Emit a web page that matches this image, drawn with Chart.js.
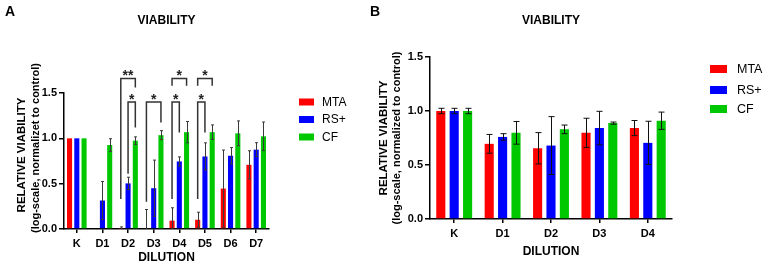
<!DOCTYPE html>
<html><head><meta charset="utf-8">
<script src="https://cdn.jsdelivr.net/npm/chart.js@4/dist/chart.umd.min.js"></script>
<style>
html,body{margin:0;padding:0;background:#fff;width:767px;height:267px;overflow:hidden}
#wa{position:absolute;left:0;top:0;width:370px;height:267px}
#wb{position:absolute;left:370px;top:0;width:397px;height:267px}
canvas{display:block}
</style></head><body>
<div id="wa"><canvas id="ca" width="370" height="267"></canvas></div>
<div id="wb"><canvas id="cb" width="397" height="267"></canvas></div>
<script>
// ---------- DATA ----------
const seriesNames = ['MTA', 'RS+', 'CF'];
const yTicks = [0, 0.5, 1.0, 1.5];

// Panel A
const categoriesA = ['K', 'D1', 'D2', 'D3', 'D4', 'D5', 'D6', 'D7'];
const mtaA    = [1.00, 0.00, 0.005, 0.00, 0.092, 0.102, 0.446, 0.708];
const mtaErrA = [0.00, 0.00, 0.018, 0.215, 0.142, 0.083, 0.425, 0.155];
const rsA     = [1.00, 0.314, 0.503, 0.450, 0.745, 0.800, 0.808, 0.875];
const rsErrA  = [0.00, 0.210, 0.068, 0.310, 0.050, 0.150, 0.090, 0.077];
const cfA     = [1.00, 0.926, 0.974, 1.035, 1.068, 1.068, 1.055, 1.022];
const cfErrA  = [0.00, 0.070, 0.042, 0.050, 0.118, 0.080, 0.137, 0.158];
// significance brackets (category, series from/to, bracket level, leg ends)
const bracketCats   = ['D2', 'D2', 'D3', 'D4', 'D4', 'D5', 'D5'];
const bracketFrom   = [0, 1, 0, 0, 0, 0, 0];
const bracketTo     = [2, 2, 2, 2, 1, 2, 1];
const bracketLevel  = [1.66, 1.40, 1.40, 1.66, 1.40, 1.66, 1.40];
const bracketLeftEnd  = [0.33, 0.61, 0.30, 1.58, 0.33, 1.58, 0.33];
const bracketRightEnd = [1.56, 1.12, 1.175, 1.58, 1.065, 1.58, 1.065];
const bracketLabels = ['**', '*', '*', '*', '*', '*', '*'];

// Panel B
const categoriesB = ['K', 'D1', 'D2', 'D3', 'D4'];
const mtaB    = [1.00, 0.696, 0.655, 0.798, 0.842];
const mtaErrB = [0.025, 0.087, 0.145, 0.135, 0.070];
const rsB     = [1.00, 0.760, 0.680, 0.842, 0.705];
const rsErrB  = [0.025, 0.030, 0.268, 0.155, 0.200];
const cfB     = [1.00, 0.798, 0.830, 0.888, 0.910];
const cfErrB  = [0.025, 0.105, 0.040, 0.010, 0.080];

// ---------- STYLE ----------
const FONT = "'Liberation Sans', Arial, Helvetica, sans-serif";
const COLORS = ['#ff0000', '#0000ff', '#00c800'];

function overlayPlugin(o) {
  return {
    id: 'overlay',
    afterDatasetsDraw(chart) {
      const ctx = chart.ctx;
      const ys = chart.scales.y;
      // error bars
      ctx.save();
      ctx.strokeStyle = o.errColor;
      ctx.lineWidth = 1;
      o.errs.forEach((errArr, di) => {
        const meta = chart.getDatasetMeta(di);
        const vals = chart.data.datasets[di].data;
        errArr.forEach((e, i) => {
          if (!e) return;
          const x = Math.round(meta.data[i].x) + 0.5;
          const yt = ys.getPixelForValue(vals[i] + e);
          const yb = ys.getPixelForValue(Math.max(0, vals[i] - e));
          ctx.beginPath();
          ctx.moveTo(x, yt); ctx.lineTo(x, yb);
          ctx.moveTo(x - o.cap, yt); ctx.lineTo(x + o.cap, yt);
          if (vals[i] - e > 0) { ctx.moveTo(x - o.cap, yb); ctx.lineTo(x + o.cap, yb); }
          ctx.stroke();
        });
      });
      ctx.restore();
    },
    afterDraw(chart) {
      const ctx = chart.ctx;
      const ca = chart.chartArea;
      const ys = chart.scales.y;
      ctx.save();
      ctx.fillStyle = '#000';
      ctx.textAlign = 'center';
      ctx.textBaseline = 'middle';
      // panel letter
      ctx.font = 'bold 14px ' + FONT;
      ctx.fillText(o.letter, o.letterX, o.letterY);
      // title
      ctx.font = 'bold 12px ' + FONT;
      ctx.fillText('VIABILITY', (ca.left + ca.right) / 2, o.titleY);
      // x title
      ctx.fillText('DILUTION', (ca.left + ca.right) / 2, o.xTitleY);
      // y title
      ctx.save();
      ctx.translate(o.yT1x, o.yT1y);
      ctx.rotate(-Math.PI / 2);
      ctx.font = 'bold 11.5px ' + FONT;
      ctx.fillText('RELATIVE VIABILITY', 0, 0);
      ctx.restore();
      ctx.save();
      ctx.translate(o.yT2x, o.yT2y);
      ctx.rotate(-Math.PI / 2);
      ctx.font = 'bold 11px ' + FONT;
      ctx.fillText(o.yTitle2, 0, 0);
      ctx.restore();
      // legend
      ctx.textAlign = 'left';
      ctx.font = o.legFont + 'px ' + FONT;
      chart.data.datasets.forEach((ds, i) => {
        const cy = o.legY[i];
        ctx.fillStyle = ds.backgroundColor;
        ctx.fillRect(o.legBoxX, cy - o.legBoxH / 2, o.legBoxW, o.legBoxH);
        ctx.fillStyle = '#000';
        ctx.fillText(ds.label, o.legTextX, cy + 0.5);
      });
      // significance brackets
      if (o.brackets) {
        ctx.strokeStyle = '#333';
        ctx.lineWidth = 1.5;
        ctx.font = 'bold 14px ' + FONT;
        ctx.textAlign = 'center';
        ctx.textBaseline = 'alphabetic';
        ctx.fillStyle = '#222';
        const cats = chart.data.labels;
        bracketCats.forEach((c, k) => {
          const idx = cats.indexOf(c);
          const x1 = chart.getDatasetMeta(bracketFrom[k]).data[idx].x;
          const x2 = chart.getDatasetMeta(bracketTo[k]).data[idx].x;
          const yl = ys.getPixelForValue(bracketLevel[k]);
          const y1 = ys.getPixelForValue(bracketLeftEnd[k]);
          const y2 = ys.getPixelForValue(bracketRightEnd[k]);
          ctx.beginPath();
          ctx.moveTo(x1, y1); ctx.lineTo(x1, yl); ctx.lineTo(x2, yl); ctx.lineTo(x2, y2);
          ctx.stroke();
          ctx.fillText(bracketLabels[k], (x1 + x2) / 2, yl + 2);
        });
      }
      ctx.restore();
    }
  };
}

function buildChart(canvas, cats, series, errs, geom, o) {
  const tickFont = { family: FONT, size: 11, weight: 'bold' };
  return new Chart(canvas, {
    type: 'bar',
    data: {
      labels: cats,
      datasets: series.map((d, i) => ({
        label: seriesNames[i], data: d, backgroundColor: COLORS[i],
        borderWidth: 0, categoryPercentage: geom.catPct, barPercentage: geom.barPct
      }))
    },
    options: {
      responsive: false, animation: false, devicePixelRatio: 1,
      layout: { padding: { left: 0, top: geom.top, right: geom.right, bottom: 0 } },
      plugins: { legend: { display: false }, tooltip: { enabled: false }, title: { display: false } },
      scales: {
        x: {
          grid: { offset: false, drawOnChartArea: false, tickLength: 4, color: '#000', lineWidth: 1.5 },
          border: { color: '#000', width: 1.5 },
          ticks: { font: tickFont, color: '#000', padding: 4 },
          afterFit: s => { s.height = geom.xH; }
        },
        y: {
          min: 0, max: 1.5,
          afterBuildTicks: s => { s.ticks = yTicks.map(v => ({ value: v })); },
          grid: { drawOnChartArea: false, tickLength: 5, color: '#000', lineWidth: 1.5 },
          border: { color: '#000', width: 1.5 },
          ticks: { font: tickFont, color: '#000', padding: 2, callback: v => Number(v).toFixed(1) },
          afterFit: s => { s.width = geom.yW; }
        }
      }
    },
    plugins: [overlayPlugin(Object.assign({ errs }, o))]
  });
}

buildChart(document.getElementById('ca'), categoriesA, [mtaA, rsA, cfA], [mtaErrA, rsErrA, cfErrA],
  { catPct: 0.85, barPct: 0.70, top: 93, right: 101, xH: 38, yW: 64 },
  { letter: 'A', letterX: 10, letterY: 12, titleY: 21, xTitleY: 258,
    yT1x: 22, yT1y: 155, yT2x: 36, yT2y: 148, yTitle2: '(log-scale, normalizet to control)',
    legBoxX: 299, legBoxW: 15, legBoxH: 7, legTextX: 322, legY: [102, 119.5, 137], legFont: 12,
    errColor: '#3a3a3a', cap: 1.5, brackets: true });

buildChart(document.getElementById('cb'), categoriesB, [mtaB, rsB, cfB], [mtaErrB, rsErrB, cfErrB],
  { catPct: 0.83, barPct: 0.68, top: 57, right: 95, xH: 48, yW: 60 },
  { letter: 'B', letterX: 5, letterY: 12, titleY: 21, xTitleY: 252,
    yT1x: 14, yT1y: 138, yT2x: 27, yT2y: 138, yTitle2: '(log-scale, normalized to control)',
    legBoxX: 340, legBoxW: 17, legBoxH: 8, legTextX: 367, legY: [69, 90, 109], legFont: 12.5,
    errColor: '#111', cap: 3, brackets: false });
</script>
</body></html>
